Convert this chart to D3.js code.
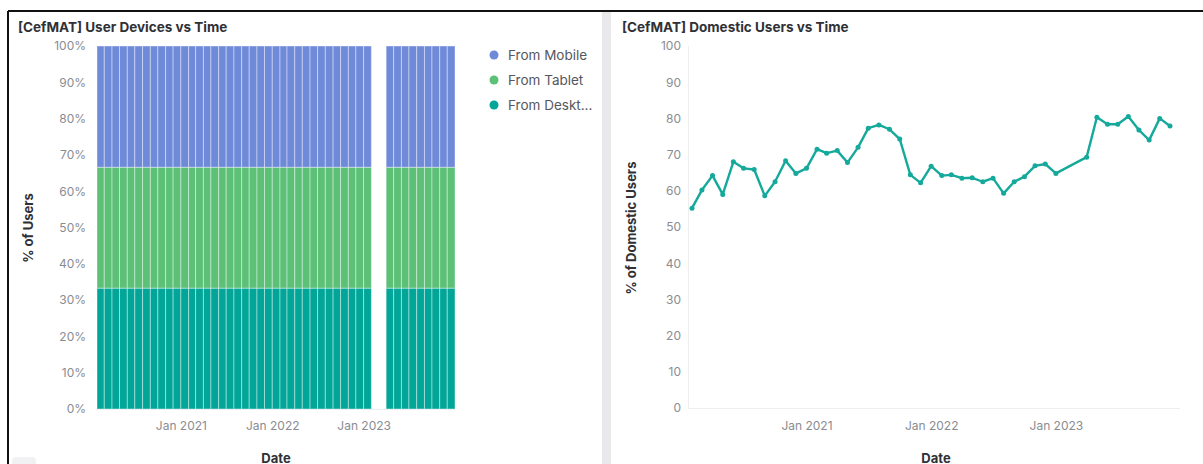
<!DOCTYPE html>
<html>
<head>
<meta charset="utf-8">
<script src="https://cdn.jsdelivr.net/npm/d3@7"></script>
<style>
  body { margin: 0; background: #fff; font-family: Inter, "Noto Sans", sans-serif; }
  svg { display: block; }
</style>
</head>
<body>
<script>
// months with data (Feb & Mar 2023 missing)
var months = [
  "2020-02","2020-03","2020-04","2020-05","2020-06","2020-07","2020-08","2020-09","2020-10","2020-11","2020-12","2021-01",
  "2021-02","2021-03","2021-04","2021-05","2021-06","2021-07","2021-08","2021-09","2021-10","2021-11","2021-12","2022-01",
  "2022-02","2022-03","2022-04","2022-05","2022-06","2022-07","2022-08","2022-09","2022-10","2022-11","2022-12","2023-01",
  "2023-04","2023-05","2023-06","2023-07","2023-08","2023-09","2023-10","2023-11","2023-12"
];
var fromMobile = [
  33.4,33.4,33.4,33.4,33.4,33.4,33.4,33.4,33.4,33.4,33.4,33.4,
  33.4,33.4,33.4,33.4,33.4,33.4,33.4,33.4,33.4,33.4,33.4,33.4,
  33.4,33.4,33.4,33.4,33.4,33.4,33.4,33.4,33.4,33.4,33.4,33.4,
  33.4,33.4,33.4,33.4,33.4,33.4,33.4,33.4,33.4
];
var fromTablet = [
  33.3,33.3,33.3,33.3,33.3,33.3,33.3,33.3,33.3,33.3,33.3,33.3,
  33.3,33.3,33.3,33.3,33.3,33.3,33.3,33.3,33.3,33.3,33.3,33.3,
  33.3,33.3,33.3,33.3,33.3,33.3,33.3,33.3,33.3,33.3,33.3,33.3,
  33.3,33.3,33.3,33.3,33.3,33.3,33.3,33.3,33.3
];
var fromDesktop = [
  33.3,33.3,33.3,33.3,33.3,33.3,33.3,33.3,33.3,33.3,33.3,33.3,
  33.3,33.3,33.3,33.3,33.3,33.3,33.3,33.3,33.3,33.3,33.3,33.3,
  33.3,33.3,33.3,33.3,33.3,33.3,33.3,33.3,33.3,33.3,33.3,33.3,
  33.3,33.3,33.3,33.3,33.3,33.3,33.3,33.3,33.3
];
var domestic = [
  55.2,60.2,64.2,59.0,68.0,66.2,65.9,58.6,62.5,68.3,64.8,66.2,
  71.5,70.4,71.1,67.8,72.0,77.3,78.2,77.0,74.3,64.4,62.2,66.8,
  64.2,64.4,63.5,63.6,62.5,63.5,59.3,62.5,63.9,66.9,67.4,64.8,
  69.3,80.3,78.4,78.4,80.5,76.8,74.0,80.0,77.9
];
var xTicks = ["2021-01","2022-01","2023-01"];
var yTicks = [0,10,20,30,40,50,60,70,80,90,100];
var legendLabels = ["From Mobile","From Tablet","From Deskt..."];

var W = 1203, H = 464;
var parse = d3.timeParse("%Y-%m");
var tickColor = "#8a8c92";
var titleColor = "#2f3136";
var colors = { mobile: "#6f8ad9", tablet: "#5cc077", desktop: "#02a698" };

var svg = d3.select("body").append("svg").attr("width", W).attr("height", H);

// frame + panel separator
svg.append("rect").attr("x", 602).attr("y", 12).attr("width", 9).attr("height", H).attr("fill", "#e9e9eb");
svg.append("rect").attr("x", 611).attr("y", 12).attr("width", 12).attr("height", 12).attr("fill", "#fff").attr("rx", 6);
svg.append("line").attr("x1", 8).attr("x2", W).attr("y1", 11).attr("y2", 11).attr("stroke", "#111").attr("stroke-width", 2);
svg.append("line").attr("x1", 8).attr("x2", 8).attr("y1", 11).attr("y2", H).attr("stroke", "#111").attr("stroke-width", 2);
svg.append("rect").attr("x", 12).attr("y", 457).attr("width", 24).attr("height", 14).attr("rx", 4).attr("fill", "#f1f1f3");

// ---------- left: stacked bars ----------
var rows = months.map(function (m, i) {
  return { date: parse(m), mobile: fromMobile[i], tablet: fromTablet[i], desktop: fromDesktop[i] };
});
var x1 = d3.scaleTime().domain([parse("2020-02"), parse("2024-01")]).range([97, 455]);
var y1 = d3.scaleLinear().domain([0, 100]).range([409, 46]);

var stack = d3.stack().keys(["desktop", "tablet", "mobile"]);
var series = stack(rows);

svg.append("line").attr("x1", 97).attr("x2", 455).attr("y1", 409.5).attr("y2", 409.5).attr("stroke", "#eeeef0");

svg.selectAll(".layer")
  .data(series)
  .enter()
  .append("g")
  .attr("fill", function (d) { return colors[d.key]; })
  .selectAll("rect")
  .data(function (d) { return d; })
  .enter()
  .append("rect")
  .attr("x", function (d) { return x1(d.data.date); })
  .attr("width", function (d) { return x1(d3.timeMonth.offset(d.data.date, 1)) - x1(d.data.date); })
  .attr("y", function (d) { return y1(d[1]); })
  .attr("height", function (d) { return y1(d[0]) - y1(d[1]); })
  .attr("stroke", "rgba(255,255,255,0.4)")
  .attr("stroke-width", 1);

var yAxis1 = d3.axisLeft(y1).tickValues(yTicks).tickFormat(function (d) { return d + "%"; }).tickSize(0).tickPadding(11);
var gy1 = svg.append("g").attr("transform", "translate(97,0)").call(yAxis1);
var xAxis1 = d3.axisBottom(x1).tickValues(xTicks.map(parse)).tickFormat(d3.timeFormat("Jan %Y")).tickSize(0).tickPadding(12);
var gx1 = svg.append("g").attr("transform", "translate(0,409)").call(xAxis1);

svg.append("text").attr("x", 18).attr("y", 32).text("[CefMAT] User Devices vs Time")
  .attr("font-size", 13.5).attr("font-weight", 700).attr("fill", titleColor);
svg.append("text").attr("transform", "translate(33,228) rotate(-90)").attr("text-anchor", "middle")
  .text("% of Users").attr("font-size", 13).attr("font-weight", 700).attr("fill", titleColor);
svg.append("text").attr("x", 276).attr("y", 463).attr("text-anchor", "middle")
  .text("Date").attr("font-size", 13).attr("font-weight", 700).attr("fill", titleColor);

var legend = svg.selectAll(".legend")
  .data(legendLabels)
  .enter()
  .append("g")
  .attr("transform", function (d, i) { return "translate(494," + (55 + i * 25) + ")"; });
legend.append("circle").attr("r", 4.5).attr("fill", function (d, i) { return [colors.mobile, colors.tablet, colors.desktop][i]; });
legend.append("text").attr("x", 14).attr("dy", "0.35em").text(function (d) { return d; })
  .attr("font-size", 13.5).attr("fill", "#55575d");

// ---------- right: line ----------
var pts = months.map(function (m, i) { return { date: parse(m), v: domestic[i] }; });
var x2 = d3.scaleTime().domain([parse("2020-02"), parse("2023-12")]).range([692, 1170]);
var y2 = d3.scaleLinear().domain([0, 100]).range([408, 46]);

svg.append("line").attr("x1", 688.5).attr("x2", 688.5).attr("y1", 46).attr("y2", 408).attr("stroke", "#eeeef0");
svg.append("line").attr("x1", 688).attr("x2", 1180).attr("y1", 408.5).attr("y2", 408.5).attr("stroke", "#eeeef0");

svg.append("path")
  .datum(pts)
  .attr("fill", "none")
  .attr("stroke", "#14a99b")
  .attr("stroke-width", 2.4)
  .attr("stroke-linejoin", "round")
  .attr("d", d3.line().x(function (d) { return x2(d.date); }).y(function (d) { return y2(d.v); }));

svg.selectAll(".dot")
  .data(pts)
  .enter()
  .append("circle")
  .attr("cx", function (d) { return x2(d.date); })
  .attr("cy", function (d) { return y2(d.v); })
  .attr("r", 2.5)
  .attr("fill", "#14a99b");

var yAxis2 = d3.axisLeft(y2).tickValues(yTicks).tickSize(0).tickPadding(8);
var gy2 = svg.append("g").attr("transform", "translate(689,0)").call(yAxis2);
var xAxis2 = d3.axisBottom(x2).tickValues(xTicks.map(parse)).tickFormat(d3.timeFormat("Jan %Y")).tickSize(0).tickPadding(13);
var gx2 = svg.append("g").attr("transform", "translate(0,408)").call(xAxis2);

svg.append("text").attr("x", 622).attr("y", 32).text("[CefMAT] Domestic Users vs Time")
  .attr("font-size", 13.5).attr("font-weight", 700).attr("fill", titleColor);
svg.append("text").attr("transform", "translate(636,228) rotate(-90)").attr("text-anchor", "middle")
  .text("% of Domestic Users").attr("font-size", 13).attr("font-weight", 700).attr("fill", titleColor);
svg.append("text").attr("x", 936).attr("y", 463).attr("text-anchor", "middle")
  .text("Date").attr("font-size", 13).attr("font-weight", 700).attr("fill", titleColor);

// axis styling
[gy1, gx1, gy2, gx2].forEach(function (g) {
  g.select(".domain").remove();
  g.selectAll("text").attr("fill", tickColor).attr("font-size", 12).attr("font-family", "Inter, sans-serif");
});
</script>
</body>
</html>
